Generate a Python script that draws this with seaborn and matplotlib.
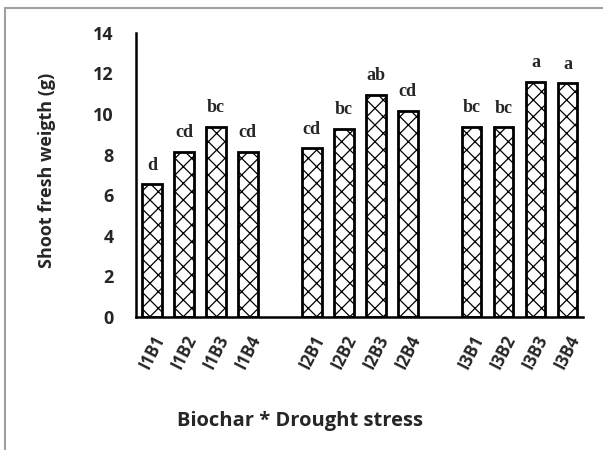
import matplotlib
matplotlib.use("Agg")
import matplotlib.pyplot as plt
import seaborn as sns
import pandas as pd
from matplotlib.patches import Rectangle

# Treatment combinations (irrigation level x biochar rate)
treatments = ["I1B1", "I1B2", "I1B3", "I1B4",
              "I2B1", "I2B2", "I2B3", "I2B4",
              "I3B1", "I3B2", "I3B3", "I3B4"]
fresh_weight = [6.55, 8.13, 9.38, 8.13,
                8.31, 9.28, 10.94, 10.17,
                9.38, 9.35, 11.60, 11.52]
letters = ["d", "cd", "bc", "cd",
           "cd", "bc", "ab", "cd",
           "bc", "bc", "a", "a"]

# Blank slots separating the irrigation groups
order = treatments[0:4] + [" "] + treatments[4:8] + ["  "] + treatments[8:12]

df = pd.DataFrame({"treatment": treatments, "weight": fresh_weight})

sns.set_style("white")
plt.rcParams["font.family"] = ["Open Sans", "DejaVu Sans"]
plt.rcParams["hatch.linewidth"] = 0.9

fig = plt.figure(figsize=(6.03, 4.5), dpi=100)
ax = fig.add_axes([0.2255, 0.296, 0.742, 0.631])

sns.barplot(data=df, x="treatment", y="weight", order=order, ax=ax,
            color="white", edgecolor="black", linewidth=2,
            width=0.62, errorbar=None)

for p in ax.patches:
    p.set_hatch("xx")

# Significance letters above bars
for name, val, lab in zip(treatments, fresh_weight, letters):
    xpos = order.index(name)
    ax.annotate(lab, (xpos, val), xytext=(0, 7.5), textcoords="offset points",
                ha="center", va="bottom", fontsize=13, fontweight="bold",
                family=["Liberation Serif", "DejaVu Serif"])

ax.set_ylim(0, 14)
ax.set_xlim(-0.5, len(order) - 0.5)
ax.set_yticks(range(0, 15, 2))
ax.set_yticklabels([str(v) for v in range(0, 15, 2)],
                   fontsize=13, fontweight="bold")
ax.set_xticks(range(len(order)))
ax.set_xticklabels([t.strip() for t in order], rotation=63, fontsize=12,
                   fontweight="bold", ha="center", va="top")
ax.tick_params(axis="both", length=0)
ax.tick_params(axis="x", pad=11)
ax.tick_params(axis="y", pad=16)

for s in ["top", "right"]:
    ax.spines[s].set_visible(False)
for s in ["left", "bottom"]:
    ax.spines[s].set_color("black")
    ax.spines[s].set_linewidth(1.8)

ax.set_xlabel("")
ax.set_ylabel("Shoot fresh weigth (g)", fontsize=13, fontweight="bold")
ax.yaxis.set_label_coords(-0.178, 0.515)

fig.text(0.498, 0.064, "Biochar * Drought stress", ha="center", va="center",
         fontsize=14.5, fontweight="bold")

# Chart area border
fig.patches.append(Rectangle((0.009, -0.1), 1.2, 1.082, transform=fig.transFigure,
                             fill=False, edgecolor="#a0a0a0", linewidth=1.5))

fig.savefig("out.png", dpi=100)
